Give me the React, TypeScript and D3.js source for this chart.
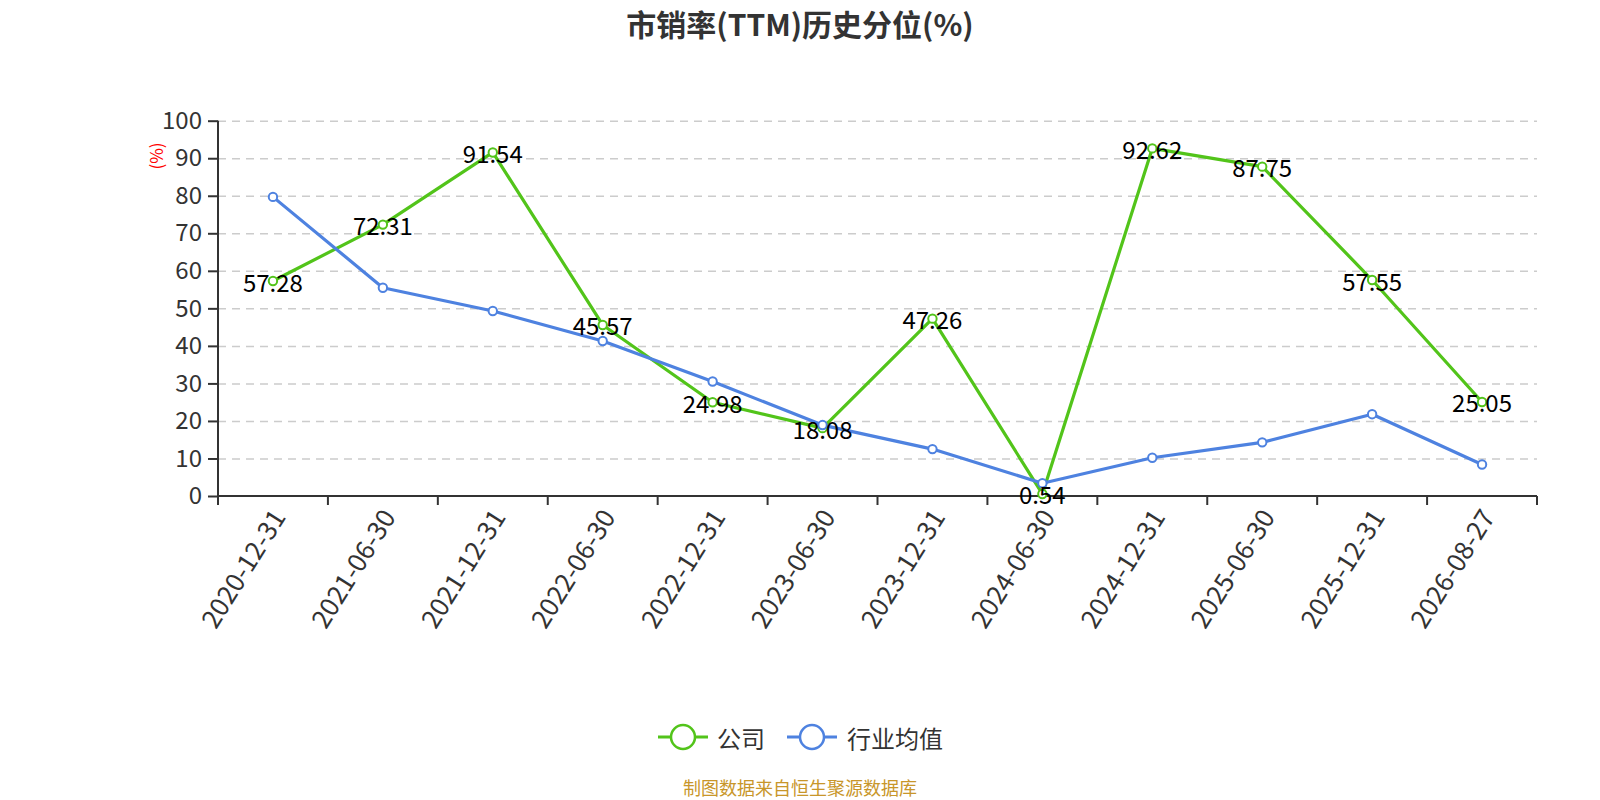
import { useEffect, useRef } from "react";
import * as d3 from "d3";

const categories = [
  "2020-12-31", "2021-06-30", "2021-12-31", "2022-06-30", "2022-12-31", "2023-06-30",
  "2023-12-31", "2024-06-30", "2024-12-31", "2025-06-30", "2025-12-31", "2026-08-27",
];
const companyValues = [57.28, 72.31, 91.54, 45.57, 24.98, 18.08, 47.26, 0.54, 92.62, 87.75, 57.55, 25.05];
const industryValues = [79.7, 55.5, 49.3, 41.3, 30.5, 18.9, 12.5, 3.4, 10.2, 14.3, 21.8, 8.4];
const yTicks = [0, 10, 20, 30, 40, 50, 60, 70, 80, 90, 100];

const FONT = "'Noto Sans CJK SC', 'Noto Sans', sans-serif";
const GREEN = "#52c41a";
const BLUE = "#4e82e0";

export default function App() {
  const svgRef = useRef<SVGSVGElement>(null);

  useEffect(() => {
    if (!svgRef.current) return;
    const W = 1600;
    const H = 800;
    const margin = { top: 120.7, right: 63, bottom: 304, left: 218 };
    const width = W - margin.left - margin.right;
    const height = H - margin.top - margin.bottom;

    const root = d3.select(svgRef.current);
    root.selectAll("*").remove();

    // Title
    root.append("text")
      .attr("x", W / 2)
      .attr("y", 23)
      .attr("text-anchor", "middle")
      .attr("dominant-baseline", "central")
      .attr("font-family", FONT)
      .attr("font-size", "30px")
      .attr("font-weight", "bold")
      .attr("fill", "#333")
      .text("市销率(TTM)历史分位(%)");

    const svg = root.append("g").attr("transform", `translate(${margin.left},${margin.top})`);

    const x = d3.scaleBand<string>().domain(categories).range([0, width]);
    const y = d3.scaleLinear().domain([0, 100]).range([height, 0]);
    const cx = (c: string) => (x(c) || 0) + x.bandwidth() / 2;

    // Grid
    svg.append("g")
      .call(d3.axisLeft(y).tickValues(yTicks.slice(1)).tickSize(-width).tickFormat(() => ""))
      .call((g) => g.select(".domain").remove())
      .call((g) => g.selectAll(".tick line").attr("stroke", "#ccc").attr("stroke-width", 1.5).attr("stroke-dasharray", "8,6"));

    // Y axis
    svg.append("g")
      .call(d3.axisLeft(y).tickValues(yTicks).tickSize(10).tickPadding(6).tickFormat((d) => `${d}`))
      .call((g) => g.select(".domain").attr("stroke", "#333").attr("stroke-width", 2).attr("d", `M0,0V${height}`))
      .call((g) => g.selectAll(".tick line").attr("stroke", "#333").attr("stroke-width", 2))
      .call((g) => g.selectAll(".tick text").attr("fill", "#333").attr("font-size", "24px").attr("font-family", FONT));

    // Y unit
    svg.append("text")
      .attr("transform", `translate(${155 - margin.left},${156 - margin.top}) rotate(-90)`)
      .attr("text-anchor", "middle")
      .attr("dominant-baseline", "central")
      .attr("fill", "red")
      .attr("font-size", "17px")
      .attr("font-family", FONT)
      .text("(%)");

    // X axis
    const xBoundaries = categories.map((c) => x(c) || 0).concat([width]);
    const xAxis = svg.append("g").attr("transform", `translate(0,${height})`);
    xAxis.append("path").attr("d", `M0,0H${width}`).attr("stroke", "#333").attr("stroke-width", 2);
    xAxis.selectAll("line.tk")
      .data(xBoundaries)
      .enter()
      .append("line")
      .attr("x1", (d) => d)
      .attr("x2", (d) => d)
      .attr("y1", 0)
      .attr("y2", 9)
      .attr("stroke", "#333")
      .attr("stroke-width", 2);
    xAxis.selectAll("text.lbl")
      .data(categories)
      .enter()
      .append("text")
      .attr("transform", (c) => `translate(${cx(c) + 4},${15}) rotate(-58)`)
      .attr("text-anchor", "end")
      .attr("dominant-baseline", "central")
      .attr("fill", "#333")
      .attr("font-size", "26px")
      .attr("font-family", FONT)
      .text((c) => c);

    const line = d3.line<number>()
      .x((_, i) => cx(categories[i]))
      .y((d) => y(d));

    const series = [
      { values: companyValues, color: GREEN },
      { values: industryValues, color: BLUE },
    ];

    series.forEach((s) => {
      svg.append("path")
        .datum(s.values)
        .attr("fill", "none")
        .attr("stroke", s.color)
        .attr("stroke-width", 3.2)
        .attr("stroke-linejoin", "round")
        .attr("d", line);
      svg.selectAll(null)
        .data(s.values)
        .enter()
        .append("circle")
        .attr("cx", (_, i) => cx(categories[i]))
        .attr("cy", (d) => y(d))
        .attr("r", 4.2)
        .attr("fill", "#fff")
        .attr("stroke", s.color)
        .attr("stroke-width", 2);
    });

    // Company labels
    svg.selectAll(null)
      .data(companyValues)
      .enter()
      .append("text")
      .attr("x", (_, i) => cx(categories[i]))
      .attr("y", (d) => y(d))
      .attr("text-anchor", "middle")
      .attr("dominant-baseline", "central")
      .attr("fill", "#000")
      .attr("font-size", "24px")
      .attr("font-family", FONT)
      .text((d) => d.toFixed(2));

    // Legend
    const legend = [
      { name: "公司", color: GREEN, x0: 658, tx: 717 },
      { name: "行业均值", color: BLUE, x0: 787, tx: 847 },
    ];
    const ly = 737;
    legend.forEach((l) => {
      root.append("line")
        .attr("x1", l.x0)
        .attr("x2", l.x0 + 50)
        .attr("y1", ly)
        .attr("y2", ly)
        .attr("stroke", l.color)
        .attr("stroke-width", 3);
      root.append("circle")
        .attr("cx", l.x0 + 25)
        .attr("cy", ly)
        .attr("r", 12)
        .attr("fill", "#fff")
        .attr("stroke", l.color)
        .attr("stroke-width", 2.5);
      root.append("text")
        .attr("x", l.tx)
        .attr("y", ly)
        .attr("dominant-baseline", "central")
        .attr("fill", "#333")
        .attr("font-size", "24px")
        .attr("font-family", FONT)
        .text(l.name);
    });

    // Source
    root.append("text")
      .attr("x", W / 2)
      .attr("y", 787)
      .attr("text-anchor", "middle")
      .attr("dominant-baseline", "central")
      .attr("fill", "#c8962a")
      .attr("font-size", "18px")
      .attr("font-family", FONT)
      .text("制图数据来自恒生聚源数据库");
  }, []);

  return (
    <svg
      ref={svgRef}
      width={1600}
      height={800}
      style={{ position: "absolute", left: 0, top: 0, background: "#fff" }}
    />
  );
}
